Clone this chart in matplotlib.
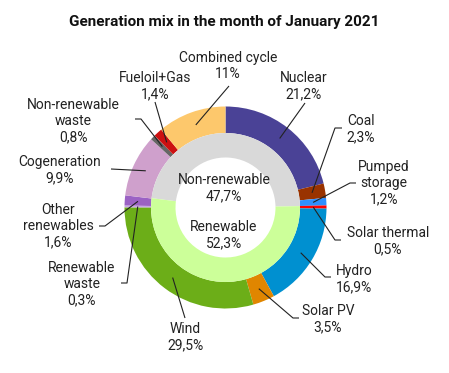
import matplotlib
matplotlib.use("Agg")
import matplotlib.pyplot as plt
import numpy as np

plt.rcParams['font.family'] = ['Roboto', 'DejaVu Sans']

# outer ring: technologies, clockwise from the top
sources = ['Nuclear', 'Coal', 'Pumped storage', 'Solar thermal', 'Hydro', 'Solar PV',
           'Wind', 'Renewable waste', 'Other renewables', 'Cogeneration',
           'Non-renewable waste', 'Fueloil+Gas', 'Combined cycle']
shares = [21.2, 2.3, 1.2, 0.5, 16.9, 3.5, 29.5, 0.3, 1.6, 9.9, 0.8, 1.4, 11.0]
source_colors = ['#4a4296', '#993300', '#2f8fff', '#ff0000', '#0090d0', '#e08600',
                 '#6cae18', '#c9a6e6', '#9b62c4', '#cfa0cc', '#666666', '#cc1111',
                 '#fdc86c']

# inner ring
groups = ['Non-renewable', 'Renewable']
group_shares = [47.7, 52.3]
group_colors = ['#d9d9d9', '#ccff99']

W, H = 449, 373
cx, cy = 225.5, 207.5          # centre in image pixels
r_out, w_out = 101, 26.5
r_in, w_in = 74.5, 24.5

# label placement in image pixels: text centre, then the path from the wedge
layout = {
    'Nuclear': ((304, 86), [(305, 103)]),
    'Coal': ((361, 129.5), [(335, 128), (342, 128)]),
    'Pumped storage': ((384, 183), [(350, 183), (356, 183)]),
    'Solar thermal': ((388, 241.5), [(335, 240), (341, 240)]),
    'Hydro': ((354, 279), [(325, 277), (331, 277)]),
    'Solar PV': ((328, 319.5), [(293, 318), (299, 318)]),
    'Wind': ((185, 337.5), [(185, 318)]),
    'Renewable waste': ((82, 284), [(127, 283), (121, 283)]),
    'Other renewables': ((58, 226), [(105, 226), (99, 226)]),
    'Cogeneration': ((60, 170), [(111, 169)]),
    'Non-renewable waste': ((73, 121), [(141, 119), (135, 119)]),
    'Fueloil+Gas': ((155, 86), [(155, 102)]),
    'Combined cycle': ((228, 66), [(229, 86)]),
}
label_text = {
    'Pumped storage': 'Pumped\nstorage',
    'Other renewables': 'Other\nrenewables',
    'Renewable waste': 'Renewable\nwaste',
    'Non-renewable waste': 'Non-renewable\nwaste',
}


def fmt(v):
    s = f"{v:.1f}"
    if s.endswith('.0'):
        s = s[:-2]
    return s.replace('.', ',') + '%'


def px(x, y):
    return x, H - y


fig = plt.figure(figsize=(W / 100, H / 100), dpi=100)
ax = fig.add_axes([0, 0, 1, 1])

wedges, _ = ax.pie(shares, radius=r_out, center=px(cx, cy), startangle=90,
                   counterclock=False, colors=source_colors,
                   wedgeprops=dict(width=w_out, linewidth=0))

# inner ring turned so that "Renewable" lines up with the renewable sources
nonren_before = sum(shares[:3])
start = 90 + (group_shares[0] - nonren_before) / 100 * 360
ax.pie(group_shares, radius=r_in, center=px(cx, cy), startangle=start,
       counterclock=False, colors=group_colors,
       wedgeprops=dict(width=w_in, linewidth=0))

ax.set_xlim(0, W)
ax.set_ylim(0, H)
ax.set_aspect('equal')
ax.axis('off')

txt_color = '#222222'
r_mid = r_out - w_out / 2
for wdg, name, v in zip(wedges, sources, shares):
    ang = np.deg2rad((wdg.theta1 + wdg.theta2) / 2)
    x0 = wdg.center[0] + r_mid * np.cos(ang)
    y0 = wdg.center[1] + r_mid * np.sin(ang)
    (tx, ty), path = layout[name]
    xs = [x0] + [p[0] for p in path]
    ys = [y0] + [H - p[1] for p in path]
    ax.plot(xs, ys, color='#222222', lw=0.8, solid_capstyle='butt')
    ax.text(*px(tx, ty), label_text.get(name, name) + '\n' + fmt(v),
            ha='center', va='center', multialignment='center',
            fontsize=10, color=txt_color, linespacing=1.2)

ax.text(*px(224, 188.5), groups[0] + '\n' + fmt(group_shares[0]),
        ha='center', va='center', multialignment='center', fontsize=10,
        color=txt_color, linespacing=1.2)
ax.text(*px(224, 235.5), groups[1] + '\n' + fmt(group_shares[1]),
        ha='center', va='center', multialignment='center', fontsize=10,
        color=txt_color, linespacing=1.2)

fig.text(0.5, 1 - 22 / H, 'Generation mix in the month of January 2021',
         ha='center', va='center', fontsize=11, fontweight='bold', color='#111111')

fig.savefig('out.png', dpi=100)
